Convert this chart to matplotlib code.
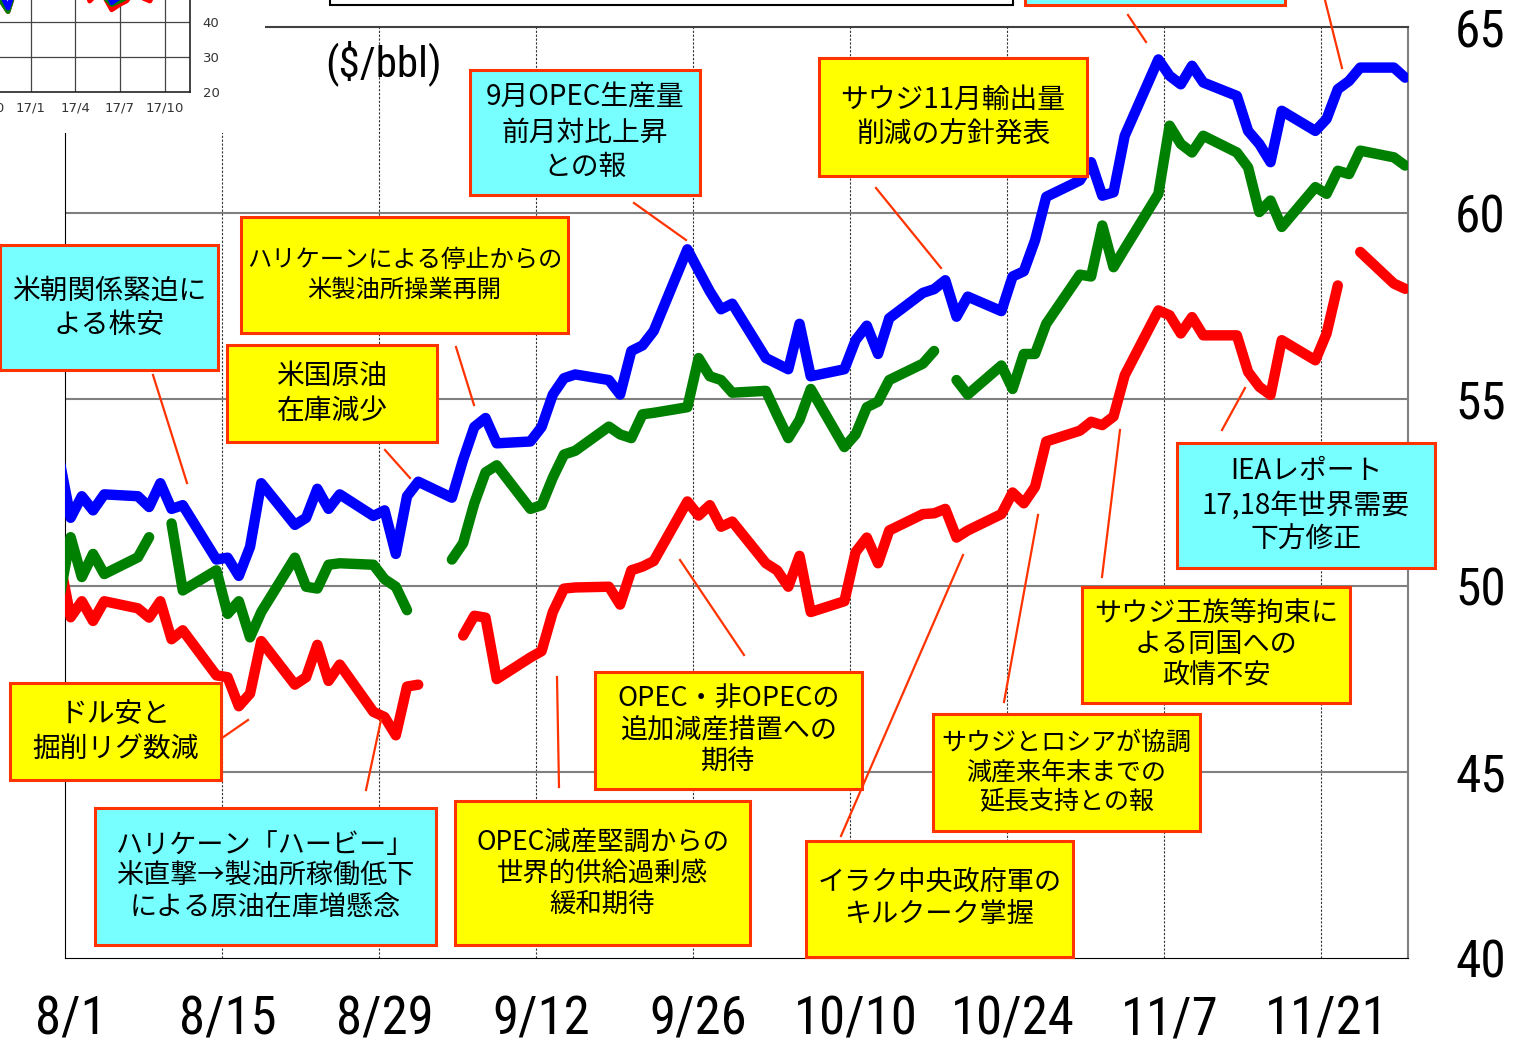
import matplotlib
matplotlib.use("Agg")
import matplotlib.pyplot as plt
from matplotlib import font_manager as fm
from matplotlib.patches import Rectangle
from matplotlib.lines import Line2D
import numpy as np
import pandas as pd

plt.rcParams['font.family'] = ['Noto Sans CJK JP', 'DejaVu Sans']

W, H = 1518, 1044
nan = np.nan

# trading days 2017-07-31 .. 2017-11-28
days = pd.bdate_range('2017-07-31', '2017-11-28')

brent = [53.38,
         51.82, 52.40, 52.02, 52.45, 52.40, 52.11, 52.75, 52.06, 52.16, 50.70, 50.75, 50.26,
         51.04, 52.75, 51.63, 51.82, 52.60, 52.06, 52.45, 51.87, 52.02, 50.85, 52.40,
         52.79, 52.36, 53.38, 54.26, 54.50, 53.82, 53.87, 54.26, 55.13, 55.57, 55.67, 55.52,
         55.13, 56.30, 56.45, 56.84, 59.03, 58.46, 57.90, 57.42, 57.57,
         56.11, 55.96, 55.81, 57.03, 55.62, 55.81, 56.59, 56.98, 56.22, 57.18, 57.86, 57.96,
         58.20, 57.22, 57.76, 57.37, 58.30, 58.44, 59.27, 60.44, 60.88, 61.37,
         60.47, 60.56, 62.08, 64.13, 63.69, 63.46, 63.96, 63.51, 63.15, 62.21, 61.86, 61.37,
         62.75, 62.21, 62.53, 63.33, 63.55, 63.91, 63.91, 63.64]

dubai = [49.68,
         51.30, 50.23, 50.85, 50.31, 50.76, 51.30, nan, 51.67, 49.87, 50.41, 49.24, 49.58,
         48.61, 49.29, 50.75, 49.97, 49.92, 50.56, 50.60, 50.56, 50.17, 49.97, 49.34,
         nan, 50.70, 51.14, 52.21, 53.04, 53.23, 52.06, 52.16, 52.90, 53.52, 53.62, 54.27,
         54.06, 53.96, 54.60, 54.64, 54.79, 56.11, 55.62, 55.52, 55.18,
         55.23, 54.58, 53.96, 54.45, 55.28, 53.72, 54.06, 54.79, 54.94, 55.52, 55.96, 56.30,
         nan, 55.52, 55.13, 55.91, 55.28, 56.22, 56.22, 57.03, 58.35, 58.30,
         59.67, 58.55, 59.05, 60.52, 62.35, 61.86, 61.63, 62.08, 61.63, 61.23, 60.03, 60.34,
         59.63, 60.70, 60.52, 61.14, 61.05, 61.68, 61.50, 61.28]

wti = [50.70,
       49.15, 49.58, 49.05, 49.58, 49.39, 49.14, 49.58, 48.56, 48.80, 47.59, 47.54, 46.76,
       47.10, 48.51, 47.34, 47.54, 48.41, 47.44, 47.88, 46.61, 46.47, 45.98, 47.29,
       47.34, nan, 48.66, 49.19, 49.14, 47.49, 48.07, 48.24, 49.29, 49.92, 49.95, 49.97,
       49.49, 50.41, 50.51, 50.66, 52.26, 51.88, 52.16, 51.58, 51.72,
       50.60, 50.41, 49.97, 50.80, 49.29, 49.58, 50.90, 51.29, 50.60, 51.48, 51.92, 51.94,
       52.06, 51.29, 51.48, 51.92, 52.50, 52.21, 52.65, 53.87, 54.16, 54.40,
       54.31, 54.54, 55.65, 57.39, 57.26, 56.77, 57.21, 56.72, 56.72, 55.74, 55.34, 55.12,
       56.59, 56.05, 56.77, 58.06, nan, 58.96, 58.11, 57.97]

tick_dates = ['2017-08-01', '2017-08-15', '2017-08-29', '2017-09-12', '2017-09-26',
              '2017-10-10', '2017-10-24', '2017-11-07', '2017-11-21']
tick_labels = ['8/1', '8/15', '8/29', '9/12', '9/26', '10/10', '10/24', '11/7', '11/21']
y_ticks = [40, 45, 50, 55, 60, 65]

# small inset: longer history
hist_dates = ['2016-06-15', '2016-07-01', '2016-07-15', '2016-08-01', '2016-08-15', '2016-09-01',
              '2016-09-15', '2016-10-01', '2016-10-15', '2016-11-01', '2016-11-15', '2016-12-01',
              '2016-12-15', '2017-01-01', '2017-01-15', '2017-02-01', '2017-02-15', '2017-03-01',
              '2017-03-15', '2017-04-01', '2017-04-15', '2017-05-01', '2017-05-15', '2017-06-01',
              '2017-06-15', '2017-07-01', '2017-07-15', '2017-08-01', '2017-08-15', '2017-09-01',
              '2017-09-15', '2017-10-01', '2017-10-15', '2017-11-01', '2017-11-15', '2017-11-28']
hist_brent = [49, 48, 46, 43, 47, 46, 46, 49, 51, 48, 44, 51, 54, 56, 55, 56, 56, 56,
              51, 53, 55, 51, 51, 50, 45.5, 47, 48, 52, 50, 52, 55, 56, 57, 60, 62, 63.6]
hist_dubai = [45, 44, 42, 40, 44, 43, 42, 47, 49, 46, 43, 50, 53, 54, 53, 54, 54, 54,
              50, 52, 53, 50, 50, 47, 45, 46, 47, 50, 50, 51, 54, 55, 56, 58, 61, 61]
hist_wti = [48, 46, 45, 41, 45, 44, 43, 47, 50, 46, 43, 50, 52, 53, 52, 53, 53, 53,
            48, 50, 53, 46, 48, 47, 43.5, 45, 46, 49, 47, 46, 50, 51, 52, 54, 56, 58]
hist_ticks = ['2016-10-01', '2017-01-01', '2017-04-01', '2017-07-01', '2017-10-01']
hist_labels = ['16/10', '17/1', '17/4', '17/7', '17/10']

YELLOW = '#FFFF00'
CYAN = '#77FFFF'
EDGE = '#FF3300'

# (x0, y0, x1, y1) in pixels, text, fill, font size
notes = [
    ((0, 245, 218, 370), '米朝関係緊迫に\nよる株安', CYAN, 20),
    ((241, 217, 568, 333), 'ハリケーンによる停止からの\n米製油所操業再開', YELLOW, 17.5),
    ((227, 345, 437, 442), '米国原油\n在庫減少', YELLOW, 20),
    ((470, 70, 700, 195), '9月OPEC生産量\n前月対比上昇\nとの報', CYAN, 20),
    ((819, 58, 1087, 176), 'サウジ11月輸出量\n削減の方針発表', YELLOW, 20),
    ((10, 683, 221, 780), 'ドル安と\n掘削リグ数減', YELLOW, 20),
    ((95, 808, 436, 945), 'ハリケーン「ハービー」\n米直撃→製油所稼働低下\nによる原油在庫増懸念', CYAN, 19.5),
    ((455, 801, 750, 945), 'OPEC減産堅調からの\n世界的供給過剰感\n緩和期待', YELLOW, 19),
    ((595, 672, 862, 789), 'OPEC・非OPECの\n追加減産措置への\n期待', YELLOW, 19.5),
    ((806, 841, 1073, 957), 'イラク中央政府軍の\nキルクーク掌握', YELLOW, 19.5),
    ((933, 714, 1200, 831), 'サウジとロシアが協調\n減産来年末までの\n延長支持との報', YELLOW, 18),
    ((1082, 587, 1350, 703), 'サウジ王族等拘束に\nよる同国への\n政情不安', YELLOW, 19.5),
    ((1177, 443, 1435, 568), 'IEAレポート\n17,18年世界需要\n下方修正', CYAN, 20),
]
leaders = [(153, 375, 187, 483), (456, 347, 474, 405), (385, 450, 410, 478),
           (634, 203, 686, 240), (876, 188, 941, 268), (222, 738, 248, 720),
           (366, 790, 381, 720), (559, 787, 557, 677), (744, 655, 680, 560),
           (841, 836, 963, 555), (1004, 702, 1038, 515), (1102, 577, 1120, 430),
           (1222, 430, 1245, 388), (1128, 15, 1146, 42), (1325, 0, 1342, 68)]


def pick_narrow():
    # narrow font for the axis numbers, with sizes for x labels, y labels, unit
    for fam, sx, sy, su in [('Liberation Sans Narrow', 42, 40, 34),
                            ('Roboto Condensed', 38, 37, 31),
                            ('DejaVu Sans Condensed', 35, 33, 30)]:
        try:
            fm.findfont(fm.FontProperties(family=fam), fallback_to_default=False)
            return fm.FontProperties(family=fam), sx, sy, su
        except ValueError:
            pass
    path = fm.findfont(fm.FontProperties(family='DejaVu Sans', stretch='condensed'))
    if 'Condensed' in path:
        return fm.FontProperties(fname=path), 35, 33, 30
    return fm.FontProperties(family='DejaVu Sans'), 31, 30, 27


def fxy(x, y):
    return x / W, 1 - y / H


def add_box(fig, x0, y0, x1, y1, fc, ec, lw=2.2):
    fig.add_artist(Rectangle(fxy(x0, y1), (x1 - x0) / W, (y1 - y0) / H,
                             transform=fig.transFigure, fc=fc, ec=ec, lw=lw, zorder=6))


nfont, size_x, size_y, size_u = pick_narrow()

fig = plt.figure(figsize=(W / 100, H / 100), dpi=100)

# main chart
ax = fig.add_axes([65 / W, 1 - 958 / H, (1408 - 65) / W, (958 - 27) / H])
t0 = pd.Timestamp('2017-08-01')
xs = np.asarray((days - t0).days, dtype=float) + 0.5
for vals, c in [(wti, '#FF0000'), (dubai, '#008000'), (brent, '#0000FF')]:
    ax.plot(xs, vals, color=c, lw=7.5, solid_capstyle='round',
            solid_joinstyle='round', zorder=3)

grid_x = np.asarray((pd.to_datetime(tick_dates) - t0).days, dtype=float)
for g in grid_x[1:]:
    ax.axvline(g, color='#333333', lw=0.8, ls=(0, (2, 1.5)), zorder=1)
for v in y_ticks[1:-1]:
    ax.axhline(v, color='#808080', lw=1.5, zorder=1)

ax.set_xlim(0, 119.76)
ax.set_ylim(40, 65)
ax.set_xticks(grid_x + 0.5)
ax.set_xticklabels(tick_labels, fontproperties=nfont, fontsize=size_x)
ax.tick_params(axis='x', length=0, pad=26)
ax.yaxis.tick_right()
ax.set_yticks(y_ticks)
ax.set_yticklabels([str(v) for v in y_ticks], fontproperties=nfont, fontsize=size_y)
ax.tick_params(axis='y', length=0, pad=34)
ax.spines['left'].set_color('black')
ax.spines['bottom'].set_color('black')
ax.spines['right'].set_color('#808080')
ax.spines['right'].set_linewidth(1.5)
ax.spines['top'].set_color('#404040')
ax.spines['top'].set_linewidth(1.5)

fig.text(325 / W, 1 - 63 / H, '($/bbl)', fontproperties=nfont, fontsize=size_u, va='center')

# white area behind the inset
fig.add_artist(Rectangle((0, 1 - 133 / H), 265 / W, 133 / H, transform=fig.transFigure,
                         fc='white', ec='none', zorder=4))

# inset chart
axi = fig.add_axes([-70 / W, 1 - 92 / H, 260 / W, 182 / H], zorder=5)
h0 = pd.Timestamp('2017-01-01')
hx = np.asarray((pd.to_datetime(hist_dates) - h0).days, dtype=float)
for vals, c in [(hist_wti, '#FF0000'), (hist_dubai, '#008000'), (hist_brent, '#0000FF')]:
    axi.plot(hx, vals, color=c, lw=3.5, solid_joinstyle='round', zorder=3)
hticks = np.asarray((pd.to_datetime(hist_ticks) - h0).days, dtype=float)
for g in hticks:
    axi.axvline(g, color='#444444', lw=0.9, zorder=1)
for v in [30, 40, 50, 60, 70]:
    axi.axhline(v, color='#444444', lw=0.9, zorder=1)
axi.set_xlim(-206.5, 325)
axi.set_ylim(20, 72)
axi.set_xticks(hticks)
axi.set_xticklabels(hist_labels, fontsize=9.5, color='#333333', family='DejaVu Sans')
axi.tick_params(axis='x', length=0, pad=7)
axi.yaxis.tick_right()
axi.set_yticks([20, 30, 40])
axi.set_yticklabels(['20', '30', '40'], fontsize=9.5, color='#333333', family='DejaVu Sans')
axi.tick_params(axis='y', length=0, pad=9)
for s in ['left', 'top']:
    axi.spines[s].set_visible(False)
for s in ['right', 'bottom']:
    axi.spines[s].set_color('#222222')
    axi.spines[s].set_linewidth(1.2)

# boxes cut off at the top edge
add_box(fig, 330, -50, 1013, 5, 'white', 'black', lw=1.5)
add_box(fig, 1025, -50, 1285, 5, CYAN, EDGE)

for x0, y0, x1, y1 in leaders:
    fig.add_artist(Line2D([x0 / W, x1 / W], [1 - y0 / H, 1 - y1 / H],
                          transform=fig.transFigure, color=EDGE, lw=1.6, zorder=6))

for (x0, y0, x1, y1), txt, fc, size in notes:
    add_box(fig, x0, y0, x1, y1, fc, EDGE)
    cx, cy = fxy((x0 + x1) / 2, (y0 + y1) / 2)
    fig.text(cx, cy, txt, ha='center', va='center', fontsize=size,
             linespacing=1.2, zorder=7)

fig.savefig('out.png', dpi=100)
